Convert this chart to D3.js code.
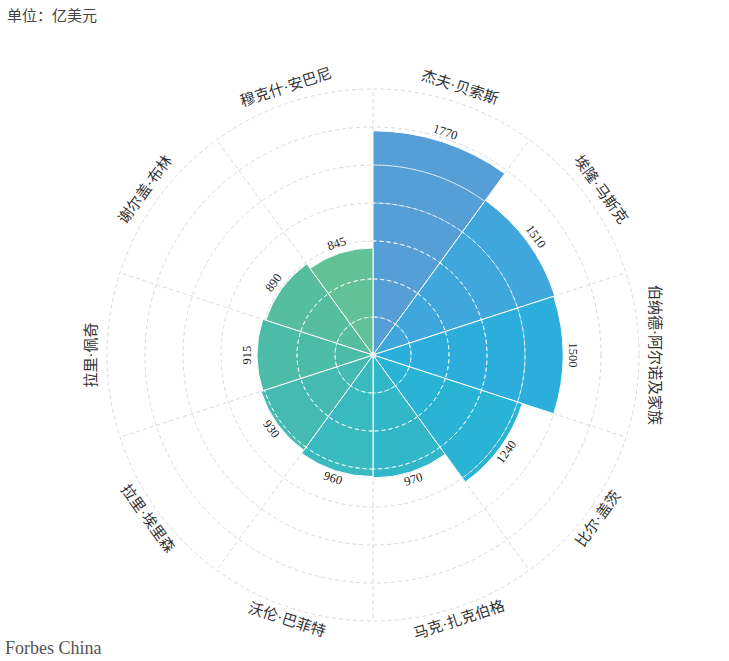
<!DOCTYPE html>
<html><head><meta charset="utf-8">
<script src="https://cdn.jsdelivr.net/npm/d3@7"></script>
<style>
html,body{margin:0;padding:0;background:#fff;}
</style></head>
<body>
<svg id="chart" width="729" height="661"></svg>
<script>
const names = ["杰夫·贝索斯","埃隆·马斯克","伯纳德·阿尔诺及家族","比尔·盖茨","马克·扎克伯格","沃伦·巴菲特","拉里·埃里森","拉里·佩奇","谢尔盖·布林","穆克什·安巴尼"];
const values = [1770,1510,1500,1240,970,960,930,915,890,845];
const colors = ["#569ed6","#3fa7db","#2caedc","#29b3d5","#31b7c8","#39b9c0","#44bab3","#4cbca9","#56bd9f","#63c197"];
const gridTicks = [300,600,900,1200,1500,1800,2100];

const svg = d3.select("#chart");
const cx = 373, cy = 355;
const r = d3.scaleLinear().domain([0,2100]).range([0,266]);
const ang = d3.scaleBand().domain(names).range([0, 2*Math.PI]).padding(0);
const g = svg.append("g").attr("transform",`translate(${cx},${cy})`);

g.selectAll("circle.grid").data(gridTicks).join("circle")
  .attr("r", d=>r(d)).attr("fill","none")
  .attr("stroke","#d6dbde").attr("stroke-width",1).attr("stroke-dasharray","4,3");
g.selectAll("line.spoke").data(names).join("line")
  .attr("x1",0).attr("y1",0)
  .attr("x2",d=>r(2100)*Math.sin(ang(d))).attr("y2",d=>-r(2100)*Math.cos(ang(d)))
  .attr("stroke","#d6dbde").attr("stroke-dasharray","4,3");

const arc = d3.arc().innerRadius(0)
  .outerRadius((d,i)=>r(values[i]))
  .startAngle(d=>ang(d)).endAngle(d=>ang(d)+ang.bandwidth());

g.selectAll("path.bar").data(names).join("path")
  .attr("d",(d,i)=>arc(d,i))
  .attr("fill",(d,i)=>colors[i])
  .attr("stroke","#ffffff").attr("stroke-width",1);

names.forEach((n,i)=>{
  gridTicks.filter(t=>r(t) < r(values[i])-2).forEach(t=>{
    const a = d3.arc().innerRadius(r(t)).outerRadius(r(t))
      .startAngle(ang(n)).endAngle(ang(n)+ang.bandwidth());
    g.append("path").attr("d",a()).attr("fill","none")
      .attr("stroke","rgba(255,255,255,0.75)").attr("stroke-width",1).attr("stroke-dasharray","4,3");
  });
});
g.append("circle").attr("r",2.5).attr("fill","#e8e8e8").attr("stroke","#fff").attr("stroke-width",0.8);

function rot(aDeg){ return (aDeg>90 && aDeg<270) ? aDeg-180 : aDeg; }

g.selectAll("text.val").data(names).join("text")
  .attr("transform",(d,i)=>{
    const a = ang(d)+ang.bandwidth()/2, rr = r(values[i])+9;
    const deg = a*180/Math.PI;
    return `translate(${rr*Math.sin(a)},${-rr*Math.cos(a)}) rotate(${rot(deg)})`;
  })
  .attr("text-anchor","middle").attr("dominant-baseline","middle")
  .attr("font-family","'Liberation Serif','DejaVu Serif',serif").attr("font-size",12.5)
  .attr("fill","#222").text((d,i)=>values[i]);

g.selectAll("text.cat").data(names).join("text")
  .attr("transform",d=>{
    const a = ang(d)+ang.bandwidth()/2, rr = 280;
    const deg = a*180/Math.PI;
    return `translate(${rr*Math.sin(a)},${-rr*Math.cos(a)}) rotate(${rot(deg)})`;
  })
  .attr("text-anchor","middle").attr("dominant-baseline","middle")
  .attr("font-family","'Liberation Serif','Noto Sans CJK SC',sans-serif").attr("font-size",15)
  .attr("fill","#333").text(d=>d);

svg.append("text").attr("x",7).attr("y",21)
  .attr("font-family","'Noto Sans CJK SC',sans-serif").attr("font-size",15)
  .attr("fill","#444").text("单位：亿美元");
svg.append("text").attr("x",5).attr("y",654)
  .attr("font-family","'Liberation Serif','DejaVu Serif',serif").attr("font-size",18)
  .attr("fill","#555").text("Forbes China");
</script>
</body></html>
